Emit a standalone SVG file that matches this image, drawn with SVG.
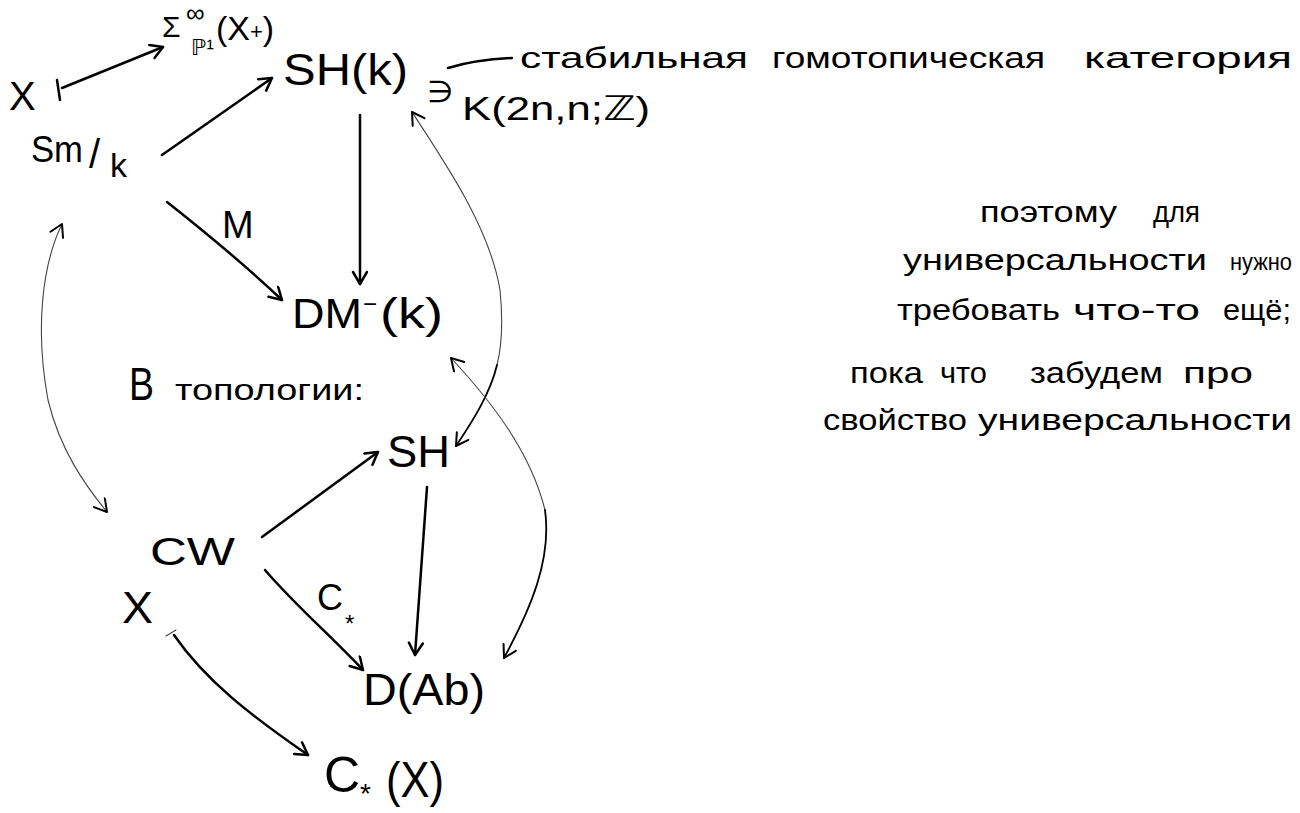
<svg xmlns="http://www.w3.org/2000/svg" width="1300" height="813" viewBox="0 0 1300 813">
<defs>
<marker id="ah" markerUnits="userSpaceOnUse" markerWidth="30" markerHeight="30" refX="14" refY="8" orient="auto">
<path d="M2,1 L14,8 L2,15" fill="none" stroke="#000" stroke-width="2.5" stroke-linecap="round" stroke-linejoin="round"/>
</marker>
<marker id="ahs" markerUnits="userSpaceOnUse" markerWidth="30" markerHeight="30" refX="14" refY="8" orient="auto-start-reverse">
<path d="M2,1 L14,8 L2,15" fill="none" stroke="#000" stroke-width="2" stroke-linecap="round" stroke-linejoin="round"/>
</marker>
</defs>
<style>
text { font-family: "Liberation Sans", "DejaVu Sans", sans-serif; fill: #000; }
.main { fill: none; stroke: #000; stroke-width: 2.5; stroke-linecap: round; }
.thin { fill: none; stroke: #444; stroke-width: 1.1; stroke-linecap: round; }
.mid { fill: none; stroke: #000; stroke-width: 1.8; stroke-linecap: round; }
.note { font-size: 30px; }
</style>
<rect width="1300" height="813" fill="#fff"/>

<g id="connectors">
  <path class="main" d="M62,88 L163,47" marker-end="url(#ah)"/>
  <path class="main" d="M57,80 L60,100"/>
  <path class="main" d="M162,155 L272,78" marker-end="url(#ah)"/>
  <path class="main" d="M360,115 L360,284" marker-end="url(#ah)"/>
  <path class="main" d="M167,202 C200,228 245,265 282,300" marker-end="url(#ah)"/>
  <path class="thin" d="M412,112 C450,170 490,230 500,290 C503,320 502,345 497,365" marker-start="url(#ahs)"/>
  <path class="mid" d="M497,365 C490,395 470,425 456,446" marker-end="url(#ahs)"/>
  <path class="thin" d="M451,358 C490,400 530,450 545,510" marker-start="url(#ahs)"/>
  <path class="mid" d="M545,510 C552,560 530,610 504,658" marker-end="url(#ahs)"/>
  <path class="thin" d="M62,224 C42,265 35,330 48,400 C60,450 85,485 107,512" marker-start="url(#ahs)" marker-end="url(#ahs)"/>
  <path class="main" d="M262,537 L378,452" marker-end="url(#ah)"/>
  <path class="main" d="M427,487 L415,655" marker-end="url(#ah)"/>
  <path class="main" d="M265,570 C295,605 330,635 363,670" marker-end="url(#ah)"/>
  <path class="main" d="M174,635 C205,680 250,715 308,755" marker-end="url(#ah)"/>
  <path class="thin" d="M166,636 L176,630"/>
  <path class="main" d="M448,68 C468,62 490,59 512,58"/>
</g>

<g id="node-X-top"><text x="9" y="110" font-size="40">X</text></g>
<g id="node-sigma">
  <text x="162" y="37" font-size="30">Σ</text>
  <text x="186" y="22" font-size="26">∞</text>
  <text x="191" y="55" font-size="22">ℙ¹</text>
  <text x="216" y="40" font-size="34">(X<tspan font-size="22" dy="-1">+</tspan><tspan dy="1">)</tspan></text>
</g>
<g id="node-SHk"><text x="283" y="85" font-size="44" textLength="125" lengthAdjust="spacingAndGlyphs">SH(k)</text></g>
<g id="label-ni"><text x="427" y="102" font-size="30">∋</text></g>
<g id="label-K"><text x="462" y="120" font-size="34" textLength="188" lengthAdjust="spacingAndGlyphs">K(2n,n;ℤ)</text></g>
<g id="label-stable">
  <text x="520" y="68" class="note" textLength="228" lengthAdjust="spacingAndGlyphs">стабильная</text>
  <text x="772" y="68" class="note" textLength="273" lengthAdjust="spacingAndGlyphs">гомотопическая</text>
  <text x="1084" y="68" class="note" textLength="208" lengthAdjust="spacingAndGlyphs">категория</text>
</g>
<g id="node-Smk">
  <text x="31" y="162" font-size="36" textLength="52" lengthAdjust="spacingAndGlyphs">Sm</text>
  <text x="89" y="168" font-size="40">/</text>
  <text x="110" y="177" font-size="34">k</text>
</g>
<g id="label-M"><text x="222" y="238" font-size="38">M</text></g>
<g id="node-DMk">
  <text x="292" y="328" font-size="42" textLength="70" lengthAdjust="spacingAndGlyphs">DM</text>
  <text x="363" y="312" font-size="24">−</text>
  <text x="380" y="328" font-size="42" textLength="63" lengthAdjust="spacingAndGlyphs">(k)</text>
</g>
<g id="label-topology">
  <text x="129" y="400" font-size="46" textLength="25" lengthAdjust="spacingAndGlyphs">В</text>
  <text x="175" y="400" font-size="30" textLength="189" lengthAdjust="spacingAndGlyphs">топологии:</text>
</g>
<g id="node-SH"><text x="387" y="467" font-size="44" textLength="63" lengthAdjust="spacingAndGlyphs">SH</text></g>
<g id="node-CW"><text x="150" y="565" font-size="38" textLength="85" lengthAdjust="spacingAndGlyphs">CW</text></g>
<g id="node-X-bottom"><text x="122" y="623" font-size="44" textLength="31" lengthAdjust="spacingAndGlyphs">X</text></g>
<g id="label-Cstar">
  <text x="317" y="610" font-size="36">C</text>
  <text x="345" y="632" font-size="24">*</text>
</g>
<g id="node-DAb"><text x="363" y="705" font-size="44" textLength="122" lengthAdjust="spacingAndGlyphs">D(Ab)</text></g>
<g id="node-CX">
  <text x="324" y="792" font-size="50">C</text>
  <text x="360" y="803" font-size="28">*</text>
  <text x="386" y="797" font-size="50" textLength="58" lengthAdjust="spacingAndGlyphs">(X)</text>
</g>

<g id="notes">
  <text x="980" y="222" class="note" textLength="137" lengthAdjust="spacingAndGlyphs">поэтому</text>
  <text x="1153" y="222" class="note" textLength="47" lengthAdjust="spacingAndGlyphs">для</text>
  <text x="903" y="270" class="note" textLength="304" lengthAdjust="spacingAndGlyphs">универсальности</text>
  <text x="1230" y="270" font-size="24" textLength="62" lengthAdjust="spacingAndGlyphs">нужно</text>
  <text x="897" y="320" class="note" textLength="163" lengthAdjust="spacingAndGlyphs">требовать</text>
  <text x="1073" y="320" class="note" textLength="127" lengthAdjust="spacingAndGlyphs">что-то</text>
  <text x="1223" y="320" class="note" textLength="68" lengthAdjust="spacingAndGlyphs">ещё;</text>
  <text x="850" y="383" class="note" textLength="73" lengthAdjust="spacingAndGlyphs">пока</text>
  <text x="940" y="383" class="note" textLength="47" lengthAdjust="spacingAndGlyphs">что</text>
  <text x="1030" y="383" class="note" textLength="133" lengthAdjust="spacingAndGlyphs">забудем</text>
  <text x="1183" y="383" class="note" textLength="70" lengthAdjust="spacingAndGlyphs">про</text>
  <text x="823" y="430" class="note" textLength="144" lengthAdjust="spacingAndGlyphs">свойство</text>
  <text x="978" y="430" class="note" textLength="314" lengthAdjust="spacingAndGlyphs">универсальности</text>
</g>
</svg>
